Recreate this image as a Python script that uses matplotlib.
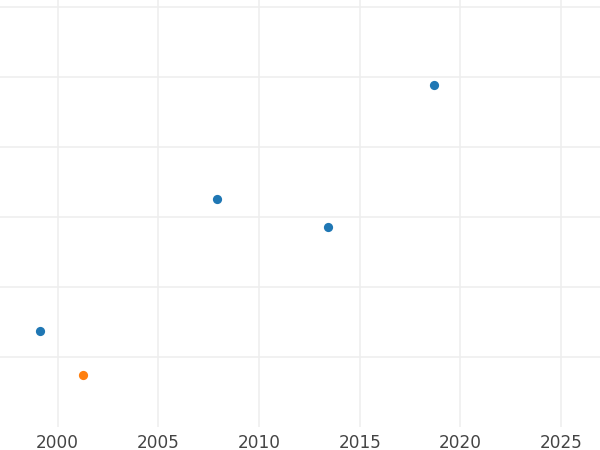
import matplotlib
matplotlib.use("Agg")
import matplotlib.pyplot as plt

# scatter values
years_blue = [1999.14, 2007.90, 2013.43, 2018.70]
vals_blue = [1.367, 3.253, 2.861, 4.881]
years_orange = [2001.28]
vals_orange = [0.743]
xticks = [2000, 2005, 2010, 2015, 2020, 2025]
yticks = [1, 2, 3, 4, 5, 6]

fig = plt.figure(figsize=(6, 4.5), dpi=100)
ax = fig.add_axes([0, 23 / 450, 1, 427 / 450])

ax.scatter(years_blue, vals_blue, s=44, color="#1f77b4", zorder=3, linewidths=0)
ax.scatter(years_orange, vals_orange, s=44, color="#ff7f0e", zorder=3, linewidths=0)

ax.set_xlim(1997.14, 2026.93)
ax.set_ylim(0, 6.1)
ax.set_xticks(xticks)
ax.set_yticks(yticks)
ax.set_yticklabels([])
ax.grid(True, color="#eeeeee", linewidth=1.1)
ax.set_axisbelow(True)
ax.tick_params(axis="both", length=0)
ax.tick_params(axis="x", labelsize=12.2, labelcolor="#444444", pad=5.0)
for s in ax.spines.values():
    s.set_visible(False)

fig.savefig("out.png", dpi=100)
